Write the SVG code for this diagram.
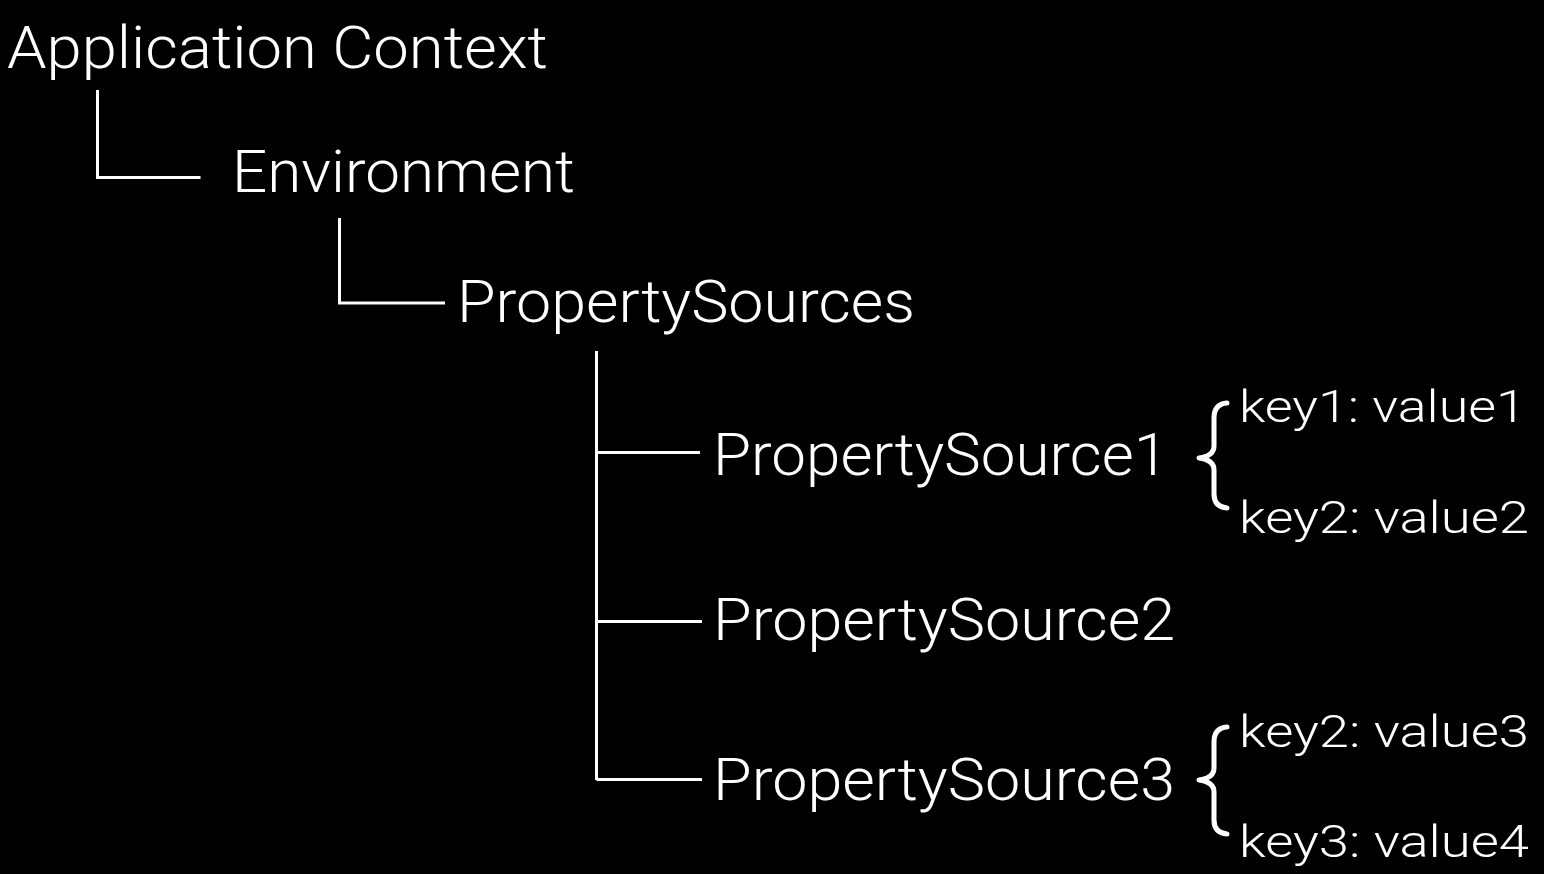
<svg xmlns="http://www.w3.org/2000/svg" width="1544" height="874" viewBox="0 0 1544 874">
<style>
.t{font-family:Roboto,"Liberation Sans",sans-serif;font-weight:300;fill:#fff}
.big{font-size:60px}
.small{font-size:45px}
.c{stroke:#fff;stroke-width:3;fill:none}
.b{stroke:#fff;stroke-width:5;fill:none;stroke-linecap:round;stroke-linejoin:round}
</style>
<rect width="1544" height="874" fill="#000"/>
<g id="connectors">
<path class="c" d="M97.5,90 V177.5 H200.5"/>
<path class="c" d="M339.5,218 V303 H445"/>
<path class="c" d="M596.5,351 V780"/>
<path class="c" d="M596.5,452.5 H700"/>
<path class="c" d="M596.5,621.5 H702"/>
<path class="c" d="M596.5,779.5 H702"/>
</g>
<g id="node-appctx"><text class="t big" x="7" y="68" textLength="541" lengthAdjust="spacingAndGlyphs">Application Context</text></g>
<g id="node-env"><text class="t big" x="232" y="192" textLength="343" lengthAdjust="spacingAndGlyphs">Environment</text></g>
<g id="node-sources"><text class="t big" x="457" y="322" textLength="458" lengthAdjust="spacingAndGlyphs">PropertySources</text></g>
<g id="node-ps1"><text class="t big" x="713" y="475" textLength="455" lengthAdjust="spacingAndGlyphs">PropertySource1</text></g>
<g id="node-ps2"><text class="t big" x="713" y="640" textLength="462" lengthAdjust="spacingAndGlyphs">PropertySource2</text></g>
<g id="node-ps3"><text class="t big" x="713" y="800" textLength="462" lengthAdjust="spacingAndGlyphs">PropertySource3</text></g>
<g id="brace-ps1">
<path class="b" d="M1227,403 Q1214,404 1214,418 L1214,446 Q1214,456 1199,458 Q1214,460 1214,470 L1214,494 Q1214,507 1227,508"/>
<text class="t small" x="1239" y="422" textLength="287" lengthAdjust="spacingAndGlyphs">key1: value1</text>
<text class="t small" x="1239" y="533" textLength="290" lengthAdjust="spacingAndGlyphs">key2: value2</text>
</g>
<g id="brace-ps3">
<path class="b" d="M1227,727 Q1214,728 1214,742 L1214,768 Q1214,778 1199,780 Q1214,782 1214,792 L1214,820 Q1214,833 1227,834"/>
<text class="t small" x="1239" y="747" textLength="290" lengthAdjust="spacingAndGlyphs">key2: value3</text>
<text class="t small" x="1239" y="857" textLength="290" lengthAdjust="spacingAndGlyphs">key3: value4</text>
</g>
</svg>
